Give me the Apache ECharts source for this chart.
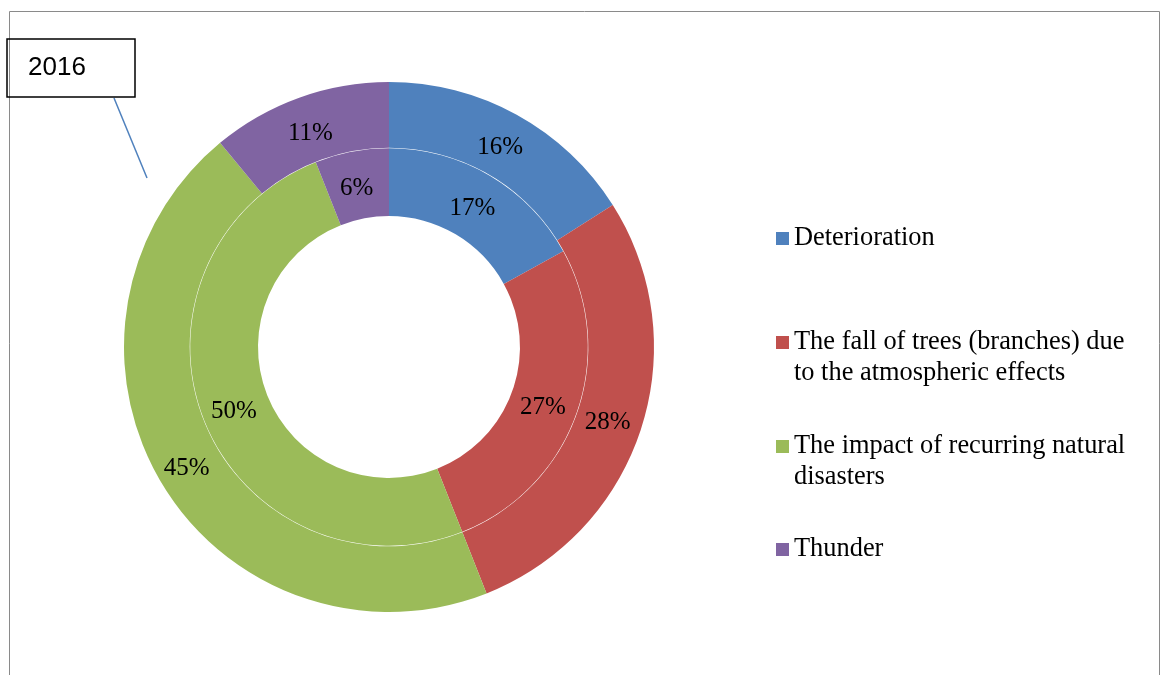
<!DOCTYPE html>
<html>
<head>
<meta charset="utf-8">
<script src="https://cdn.jsdelivr.net/npm/echarts@6/dist/echarts.min.js"></script>
<style>
  html, body { margin: 0; padding: 0; background: #fff; }
  #chart { width: 1163px; height: 675px; }
</style>
</head>
<body>
<div id="chart"></div>
<script>
const categories = [
  'Deterioration',
  'The fall of trees (branches) due to the atmospheric effects',
  'The impact of recurring natural disasters',
  'Thunder'
]
const legendLabels = [
  'Deterioration',
  'The fall of trees (branches) due\nto the atmospheric effects',
  'The impact of recurring natural\ndisasters',
  'Thunder'
]
const outerValues = [16, 28, 45, 11]
const innerValues = [17, 27, 50, 6]
const colors = ['#4F81BD', '#C0504D', '#9BBB59', '#8064A2']

const serif = 'Liberation Serif, Times New Roman, serif'

// small nudges so the percentage labels sit where the original ones do
const outerLabelNudge = [[-2, 7], [-5, 3], [0, 2], [1, 8]]
const innerLabelNudge = [[-2, 6], [-4, 4], [1, 3], [-1, 6]]

const chart = echarts.init(document.getElementById('chart'))

function ringData(values, nudges) {
  return values.map((v, i) => ({
    name: categories[i],
    value: v,
    label: { offset: nudges[i] }
  }))
}

// one legend per entry so the spacing can follow the reference
const legendTops = [223, 327, 431, 534]
const twoLineIcon = 'path://M0,0h13v13h-13zM0,44h0.01v0.01h-0.01z'

const legends = categories.map((name, i) => {
  const twoLines = legendLabels[i].indexOf('\n') >= 0
  return {
    left: 776,
    top: legendTops[i],
    orient: 'vertical',
    padding: 0,
    itemWidth: 13,
    itemHeight: twoLines ? 44 : 13,
    selectedMode: false,
    data: [{ name, icon: twoLines ? twoLineIcon : 'rect' }],
    formatter: n => legendLabels[categories.indexOf(n)],
    textStyle: {
      fontFamily: serif,
      fontSize: 26.4,
      lineHeight: 31,
      color: '#000'
    }
  }
})

const labelStyle = {
  show: true,
  position: 'inside',
  formatter: '{c}%',
  fontFamily: serif,
  fontSize: 25,
  color: '#000'
}

chart.setOption({
  color: colors,
  animation: false,
  title: {
    text: '2016',
    left: 7,
    top: 39,
    padding: [14, 49, 14, 21],
    borderColor: '#000',
    borderWidth: 1.5,
    textStyle: {
      fontFamily: 'Liberation Sans, Arial, sans-serif',
      fontWeight: 'normal',
      fontSize: 26,
      lineHeight: 30,
      color: '#000'
    }
  },
  legend: legends,
  graphic: [
    {
      type: 'rect',
      shape: { x: 9.5, y: 11.5, width: 1150, height: 700 },
      style: { fill: 'none', stroke: '#8a8a8a', lineWidth: 1 },
      silent: true
    },
    {
      type: 'line',
      shape: { x1: 114, y1: 98, x2: 147, y2: 178 },
      style: { stroke: '#4F81BD', lineWidth: 1.5 },
      silent: true
    }
  ],
  series: [
    {
      name: 'inner',
      type: 'pie',
      center: [389, 347],
      radius: [131, 198.8],
      startAngle: 90,
      clockwise: true,
      label: labelStyle,
      labelLine: { show: false },
      emphasis: { disabled: true },
      data: ringData(innerValues, innerLabelNudge)
    },
    {
      name: 'outer',
      type: 'pie',
      center: [389, 347],
      radius: [199.3, 265],
      startAngle: 90,
      clockwise: true,
      label: labelStyle,
      labelLine: { show: false },
      emphasis: { disabled: true },
      data: ringData(outerValues, outerLabelNudge)
    }
  ]
})
</script>
</body>
</html>
